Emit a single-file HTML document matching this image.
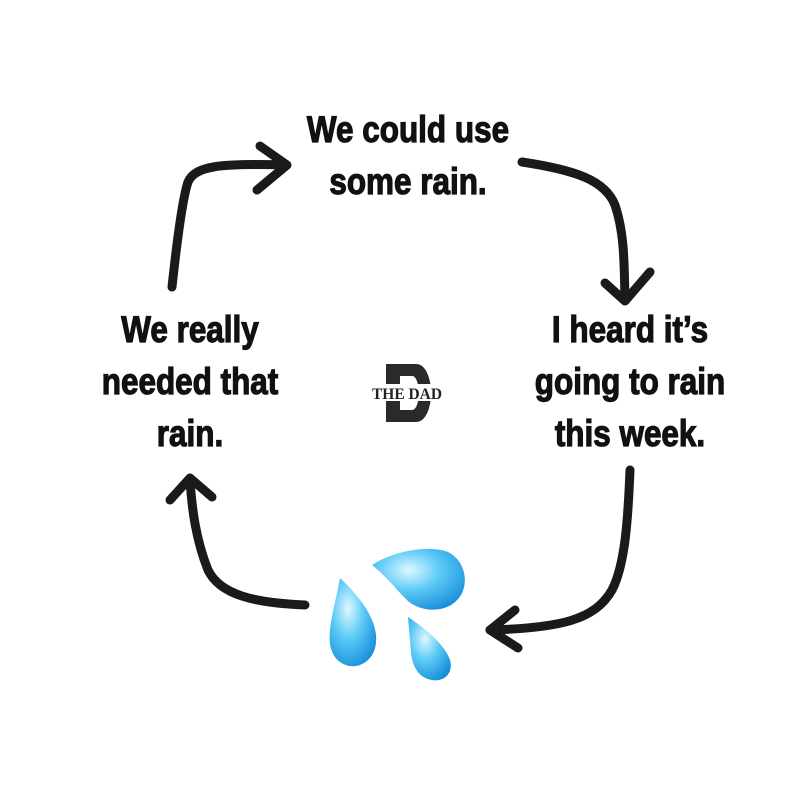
<!DOCTYPE html>
<html><head><meta charset="utf-8"><style>
html,body{margin:0;padding:0;background:#fff;}
.c{position:relative;width:800px;height:800px;overflow:hidden;background:#fff;}
.t{position:absolute;font-family:"Liberation Sans",sans-serif;font-weight:bold;font-size:37px;line-height:52px;color:#111;text-align:center;white-space:nowrap;transform:scaleX(0.85);transform-origin:center;-webkit-text-stroke:1.2px #111;}
</style></head><body><div class="c">
<svg width="800" height="800" style="position:absolute;left:0;top:0">
<defs>
<radialGradient id="g" cx="0.4" cy="0.35" r="0.75">
<stop offset="0" stop-color="#dff8ff"/><stop offset="0.45" stop-color="#5ccaf6"/><stop offset="1" stop-color="#1389d8"/>
</radialGradient>
</defs>
<g fill="none" stroke="#1a1a1a" stroke-width="9" stroke-linecap="round" stroke-linejoin="round">
<path d="M172 287 C176 250 182 200 188 182 C195 166 220 163 285 165"/>
<path d="M260 146 L287 165 L257 190"/>
<path d="M522 162 C575 170 605 180 615 205 C625 235 624 265 625 300"/>
<path d="M605 283 L625 301 L650 272"/>
<path d="M630 470 C628 520 625 565 612 590 C595 620 560 628 490 630"/>
<path d="M515 610 L490 630 L518 648"/>
<path d="M305 605 C255 603 220 595 208 570 C196 540 192 510 190 480"/>
<path d="M170 500 L190 478 L212 497"/>
</g>
<g fill="url(#g)">
<path d="M372 565 C395 550 430 545 448 552 C468 562 470 590 455 602 C440 615 415 610 405 598 C395 588 388 578 372 565 Z"/>
<path d="M340 578 C358 595 374 615 376 635 C378 658 362 668 349 666 C333 662 328 648 330 630 C332 612 336 600 340 578 Z"/>
<path d="M408 617 C425 628 445 645 450 660 C454 675 442 682 432 680 C418 678 412 665 411 652 C410 640 409 630 408 617 Z"/>
</g>
<g>
<path d="M386 364 L416 364 C436 364 436 422 416 422 L386 422 Z M400 376 L400 410 L412 410 C421 410 421 376 412 376 Z" fill="#2a2a2a" fill-rule="evenodd"/>
<rect x="370" y="384" width="74" height="17" fill="#fff"/>
<text x="407" y="399" font-family="Liberation Serif,serif" font-weight="bold" font-size="16" text-anchor="middle" fill="#222" textLength="70" lengthAdjust="spacingAndGlyphs">THE DAD</text>
</g>
</svg>
<div class="t" style="left:258px;top:104px;width:300px">We could use<br>some rain.</div>
<div class="t" style="left:50px;top:304px;width:280px">We really<br>needed that<br>rain.</div>
<div class="t" style="left:490px;top:304px;width:280px">I heard it’s<br>going to rain<br>this week.</div>
</div></body></html>
